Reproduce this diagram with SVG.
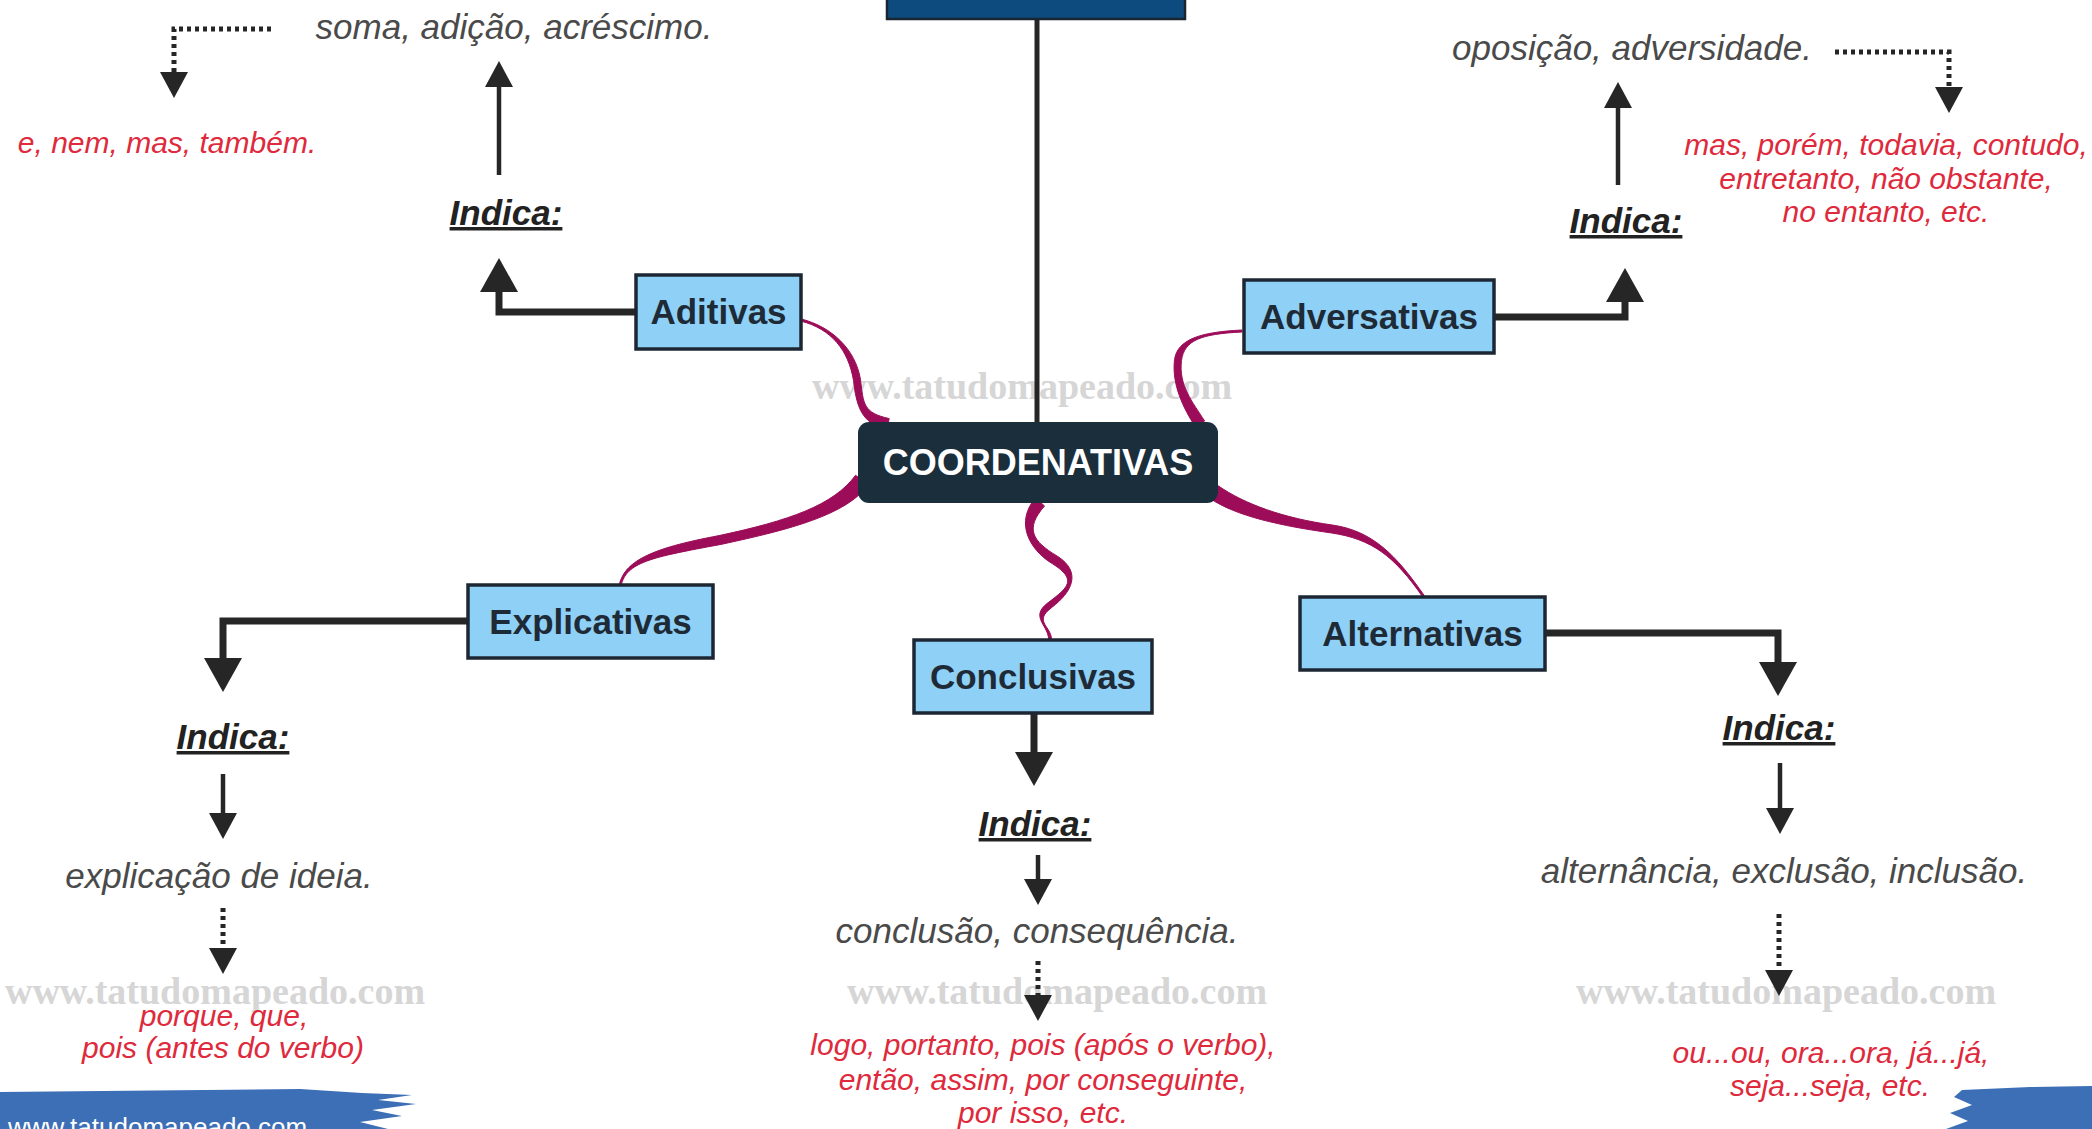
<svg xmlns="http://www.w3.org/2000/svg" width="2092" height="1129" viewBox="0 0 2092 1129">
<defs>
<style>
.wm{font-family:"Liberation Serif","Times New Roman",serif;font-weight:bold;font-size:38px;fill:#d6d6d6;text-anchor:middle}
.box{fill:#8fd0f6;stroke:#1d2733;stroke-width:3.5}
.lbl{font-family:"Liberation Sans",Arial,sans-serif;font-weight:bold;font-size:35px;fill:#1e2b37;text-anchor:middle}
.ind{font-family:"Liberation Sans",Arial,sans-serif;font-weight:bold;font-style:italic;font-size:35px;fill:#222;text-anchor:middle;text-decoration:underline}
.gray{font-family:"Liberation Sans",Arial,sans-serif;font-style:italic;font-size:35px;fill:#4a4a4a;text-anchor:middle}
.red{font-family:"Liberation Sans",Arial,sans-serif;font-style:italic;font-size:30px;fill:#de2a3c;text-anchor:middle}
.thick{fill:none;stroke:#262626;stroke-width:7;marker-end:url(#big)}
.thin{fill:none;stroke:#262626;stroke-width:4.5;marker-end:url(#small)}
.dot{fill:none;stroke:#262626;stroke-width:5;stroke-dasharray:4 4;marker-end:url(#small)}
.br{fill:#9c0c58;stroke:#9c0c58;stroke-width:1;stroke-linejoin:round}
</style>
<marker id="big" viewBox="0 0 34 40" markerWidth="34" markerHeight="40" refX="0" refY="20" orient="auto" markerUnits="userSpaceOnUse">
<path d="M0,1 L34,20 L0,39 Z" fill="#262626"/>
</marker>
<marker id="small" viewBox="0 0 26 30" markerWidth="26" markerHeight="30" refX="0" refY="15" orient="auto" markerUnits="userSpaceOnUse">
<path d="M0,1 L26,15 L0,29 Z" fill="#262626"/>
</marker>
</defs>
<rect x="0" y="0" width="2092" height="1129" fill="#ffffff"/>

<g id="watermarks">
<text class="wm" x="1022" y="399">www.tatudomapeado.com</text>
<text class="wm" x="215" y="1004">www.tatudomapeado.com</text>
<text class="wm" x="1057" y="1004">www.tatudomapeado.com</text>
<text class="wm" x="1786" y="1004">www.tatudomapeado.com</text>
</g>

<g id="brush">
<path d="M0,1092 L300,1089 L362,1093 L412,1095 L378,1100 L416,1104 L372,1110 L402,1116 L360,1122 L388,1129 L0,1129 Z" fill="#3d6fb6"/>
<path d="M1962,1090 L2030,1087 L2092,1086 L2092,1129 L1946,1129 L1968,1121 L1950,1113 L1972,1105 L1954,1097 Z" fill="#3d6fb6"/>
<text x="8" y="1136" font-family="Liberation Sans, Arial, sans-serif" font-size="26" fill="#ffffff">www.tatudomapeado.com</text>
</g>

<g id="connectors">
<line x1="1037" y1="18" x2="1037" y2="424" stroke="#262626" stroke-width="5"/>
<g id="branches">
<path class="br" d="M889.2,418.6 C863.2,412.6 863.5,404.5 860.5,379.5 C855.5,349.5 832.3,327 801.3,319 L800.7,321 C831.7,329 848.5,350.5 853.5,380.5 C856.5,405.5 860.8,423.4 886.8,429.4 Z"/>
<path class="br" d="M1204.65,421.07 C1192.65,402.07 1178.47,385.46 1181.47,360.46 C1184.47,340.46 1200.05,334 1242.05,332 L1241.95,330 C1199.95,332 1177.53,339.54 1174.53,359.54 C1171.53,384.54 1183.35,407.93 1195.35,426.93 Z"/>
<path class="br" d="M855.55,475.27 C833.55,505.27 789.12,520.59 719.12,535.59 C649.12,548.59 624.02,561.8 619.02,585.8 L620.98,586.2 C625.98,562.2 650.88,557.41 720.88,544.41 C790.88,529.41 846.45,514.73 868.45,484.73 Z"/>
<path class="br" d="M1035.48,498.06 C1015.48,521.06 1027.63,548.83 1052.63,563.83 C1077.63,579.83 1068.2,587.6 1048.2,602.6 C1028.2,617.6 1050.51,625.81 1048.51,641.81 L1051.49,642.19 C1053.49,626.19 1031.8,622.4 1051.8,607.4 C1071.8,592.4 1082.37,572.17 1057.37,556.17 C1032.37,541.17 1024.52,528.94 1044.52,505.94 Z"/>
<path class="br" d="M1209.73,498.17 C1235.73,516.17 1281.47,525.96 1331.47,532.96 C1371.47,538.96 1394.18,555.57 1423.18,597.57 L1424.82,596.43 C1395.82,554.43 1372.53,531.04 1332.53,525.04 C1282.53,518.04 1244.27,503.83 1218.27,485.83 Z"/>
</g>

<path class="thick" d="M636,312 H499 V292"/>
<path class="thin" d="M499,175 V87"/>
<path class="dot" d="M271,29 H174 V72"/>

<path class="thick" d="M1494,317 H1625 V302"/>
<path class="thin" d="M1618,185 V108"/>
<path class="dot" d="M1835,52 H1949 V87"/>

<path class="thick" d="M468,621 H223 V658"/>
<path class="thin" d="M223,774 V813"/>
<path class="dot" d="M223,908 V948"/>

<path class="thick" d="M1034,713 V752"/>
<path class="thin" d="M1038,855 V879"/>
<path class="dot" d="M1038,961 V995"/>

<path class="thick" d="M1546,633 H1778 V662"/>
<path class="thin" d="M1780,763 V808"/>
<path class="dot" d="M1779,914 V970"/>
</g>

<g id="top-node">
<rect x="887" y="-6" width="298" height="25" fill="#0d4b7e" stroke="#1a2530" stroke-width="2.5"/>
</g>

<g id="coordenativas">
<rect x="858" y="422" width="360" height="81" rx="11" fill="#1b2e3c"/>
<text x="1038" y="475" font-family="Liberation Sans, Arial, sans-serif" font-weight="bold" font-size="36" fill="#ffffff" text-anchor="middle">COORDENATIVAS</text>
</g>

<g id="aditivas">
<rect class="box" x="636" y="275" width="165" height="74"/>
<text class="lbl" x="718.5" y="324">Aditivas</text>
<text class="ind" x="506" y="225">Indica:</text>
<text class="gray" x="514" y="39">soma, adição, acréscimo.</text>
<text class="red" x="167" y="153">e, nem, mas, também.</text>
</g>

<g id="adversativas">
<rect class="box" x="1244" y="280" width="250" height="73"/>
<text class="lbl" x="1369" y="329">Adversativas</text>
<text class="ind" x="1626" y="233">Indica:</text>
<text class="gray" x="1632" y="60">oposição, adversidade.</text>
<text class="red" x="1886" y="155">mas, porém, todavia, contudo,</text>
<text class="red" x="1886" y="189">entretanto, não obstante,</text>
<text class="red" x="1886" y="222">no entanto, etc.</text>
</g>

<g id="explicativas">
<rect class="box" x="468" y="585" width="245" height="73"/>
<text class="lbl" x="590.5" y="634">Explicativas</text>
<text class="ind" x="233" y="749">Indica:</text>
<text class="gray" x="219" y="888">explicação de ideia.</text>
<text class="red" x="224" y="1026">porque, que,</text>
<text class="red" x="223" y="1058">pois (antes do verbo)</text>
</g>

<g id="conclusivas">
<rect class="box" x="914" y="640" width="238" height="73"/>
<text class="lbl" x="1033" y="689">Conclusivas</text>
<text class="ind" x="1035" y="836">Indica:</text>
<text class="gray" x="1037" y="943">conclusão, consequência.</text>
<text class="red" x="1043" y="1055">logo, portanto, pois (após o verbo),</text>
<text class="red" x="1043" y="1090">então, assim, por conseguinte,</text>
<text class="red" x="1043" y="1123">por isso, etc.</text>
</g>

<g id="alternativas">
<rect class="box" x="1300" y="597" width="245" height="73"/>
<text class="lbl" x="1422.5" y="646">Alternativas</text>
<text class="ind" x="1779" y="740">Indica:</text>
<text class="gray" x="1784" y="883">alternância, exclusão, inclusão.</text>
<text class="red" x="1831" y="1063">ou...ou, ora...ora, já...já,</text>
<text class="red" x="1830" y="1096">seja...seja, etc.</text>
</g>
</svg>
